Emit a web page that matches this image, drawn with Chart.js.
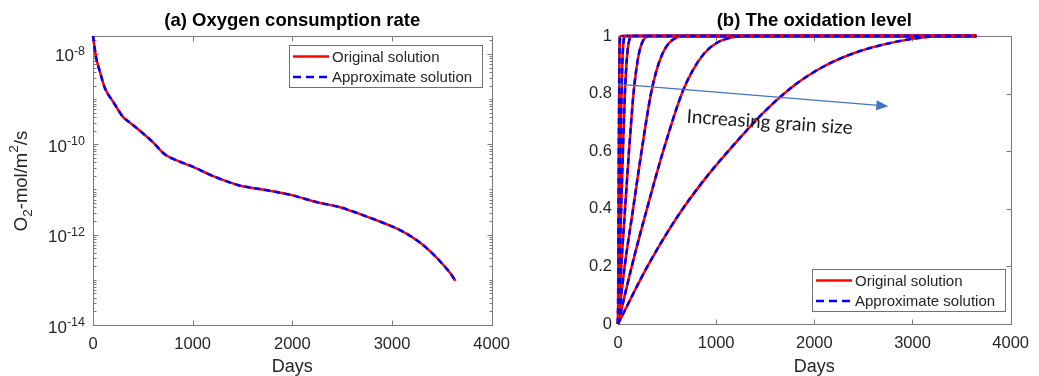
<!DOCTYPE html>
<html>
<head>
<meta charset="utf-8">
<script src="https://cdn.jsdelivr.net/npm/chart.js@4.4.0/dist/chart.umd.min.js"></script>
<style>
  html, body { margin: 0; padding: 0; background: #fff; }
  #wrap { position: relative; width: 1039px; height: 376px; overflow: hidden; }
  canvas { position: absolute; top: 0; }
  #chartA { left: 0; }
  #chartB { left: 520px; }
</style>
</head>
<body>
<div id="wrap">
  <canvas id="chartA" width="520" height="376"></canvas>
  <canvas id="chartB" width="519" height="376"></canvas>
</div>
<script>
// ---- data ----
var dayTicks = [0, 1000, 2000, 3000, 4000];
var legendLabels = ['Original solution', 'Approximate solution'];

// (a) oxygen consumption rate, O2-mol/m2/s
var rateDays = [0, 30, 70, 120, 200, 303, 340, 470, 600, 720, 800, 1000, 1200, 1470, 1700,
  2003, 2250, 2470, 2700, 2903, 3000, 3100, 3200, 3300, 3400, 3500, 3580, 3637];
var rateValues = [2.5e-8, 8.7e-9, 4.0e-9, 1.74e-9, 8.9e-10, 4.0e-10, 3.4e-10, 2.0e-10, 1.12e-10,
  6.0e-11, 4.8e-11, 3.2e-11, 2.0e-11, 1.23e-11, 1.0e-11, 7.4e-12, 5.2e-12, 4.1e-12, 2.75e-12,
  1.86e-12, 1.52e-12, 1.2e-12, 8.9e-13, 6.2e-13, 3.94e-13, 2.33e-13, 1.45e-13, 9.5e-14];
var rateExponents = [-14, -12, -10, -8];
var rateMin = 1e-14;
var rateMax = 2.5e-8;

// (b) oxidation level, one curve per grain size (small -> large)
var levelSteps = [0, 0.2, 0.4, 0.6, 0.8, 0.88, 0.94, 0.975, 0.993, 1, 1];
var grainDays = [
  [0, 3, 5, 8, 12, 14, 16, 18, 21, 24, 3650],
  [0, 8, 16, 25, 36, 42, 48, 55, 62, 72, 3650],
  [0, 15, 32, 50, 70, 82, 95, 108, 122, 140, 3650],
  [0, 33, 72, 112, 158, 185, 214, 243, 275, 316, 3650],
  [0, 68, 154, 240, 336, 392, 455, 517, 585, 670, 3650],
  [0, 140, 295, 460, 650, 760, 880, 1000, 1130, 1300, 3650]
];
var largestDays = [0, 300, 600, 900, 1200, 1500, 1800, 2100, 2400, 2700, 3000, 3300, 3650];
var largestLevel = [0, 0.2, 0.37, 0.51, 0.63, 0.74, 0.83, 0.895, 0.94, 0.97, 0.99, 1, 1];
var levelTicks = [0, 0.2, 0.4, 0.6, 0.8, 1];

// arrow + note, in data units (days, level)
var arrowFrom = [0, 0.833];
var arrowTo = [2754, 0.756];
var noteAt = [1545, 0.700];

// ---- styles ----
var fontFamily = "'Liberation Sans', Arial, sans-serif";
var textColor = '#262626';
var boxColor = '#7a7a7a';
var red = '#ff0000';
var blue = '#0000ff';

function pairs(xs, ys) {
  return xs.map(function (x, i) { return { x: x, y: ys[i] }; });
}

// red solid + blue dashed copy of one curve; later curves sit on top
function solutionSets(points, layer) {
  var base = {
    data: points, pointRadius: 0, borderWidth: 2.5, fill: false, clip: false,
    cubicInterpolationMode: 'monotone'
  };
  return [
    Object.assign({}, base, { label: legendLabels[0], borderColor: red, order: layer * 2 + 1 }),
    Object.assign({}, base, { label: legendLabels[1], borderColor: blue, borderDash: [6, 4], order: layer * 2 })
  ];
}

function drawText(ctx, txt, x, y, size, bold, align, color) {
  ctx.font = (bold ? 'bold ' : '') + size + 'px ' + fontFamily;
  ctx.fillStyle = color || textColor;
  ctx.textAlign = align || 'center';
  ctx.textBaseline = 'middle';
  ctx.fillText(txt, x, y);
}

function drawLegend(chart, lg) {
  var ctx = chart.ctx, area = chart.chartArea;
  var w = 193, h = 42;
  var left = Math.round(area.right - lg.right - w);
  var top = Math.round(lg.top != null ? area.top + lg.top : area.bottom - lg.bottom - h);
  ctx.fillStyle = '#fff';
  ctx.fillRect(left, top, w, h);
  ctx.strokeStyle = '#707070';
  ctx.lineWidth = 1;
  ctx.strokeRect(left + 0.5, top + 0.5, w, h);
  [red, blue].forEach(function (col, i) {
    var y = top + 11.5 + i * 20.5;
    ctx.beginPath();
    ctx.setLineDash(i ? [8, 5] : []);
    ctx.strokeStyle = col;
    ctx.lineWidth = 2.5;
    ctx.moveTo(left + 4, y);
    ctx.lineTo(left + 40, y);
    ctx.stroke();
    ctx.setLineDash([]);
    drawText(ctx, legendLabels[i], left + 43, y + 1, 15, false, 'left');
  });
}

function drawRotatedTitle(ctx, x, y, parts) {
  ctx.save();
  ctx.translate(x, y);
  ctx.rotate(-Math.PI / 2);
  ctx.fillStyle = textColor;
  ctx.textAlign = 'left';
  ctx.textBaseline = 'alphabetic';
  var total = 0;
  parts.forEach(function (p) {
    ctx.font = p[2] + 'px ' + fontFamily;
    total += ctx.measureText(p[0]).width;
  });
  var pos = -total / 2;
  parts.forEach(function (p) {
    ctx.font = p[2] + 'px ' + fontFamily;
    ctx.fillText(p[0], pos, p[1]);
    pos += ctx.measureText(p[0]).width;
  });
  ctx.restore();
}

var sketchAxes = {
  id: 'sketchAxes',
  beforeDatasetsDraw: function (chart, args, opts) {
    var ctx = chart.ctx, area = chart.chartArea;
    var xs = chart.scales.x, ys = chart.scales.y;
    var l = Math.round(area.left) + 0.5, r = Math.round(area.right) + 0.5;
    var t = Math.round(area.top) + 0.5, b = Math.round(area.bottom) + 0.5;
    ctx.save();
    ctx.strokeStyle = boxColor;
    ctx.lineWidth = 1;
    ctx.strokeRect(l, t, r - l, b - t);
    ctx.beginPath();
    dayTicks.forEach(function (v) {
      var px = Math.round(xs.getPixelForValue(v)) + 0.5;
      ctx.moveTo(px, b); ctx.lineTo(px, b - 5);
      ctx.moveTo(px, t); ctx.lineTo(px, t + 5);
    });
    var yTick = function (v, len) {
      var py = Math.round(ys.getPixelForValue(v)) + 0.5;
      ctx.moveTo(l, py); ctx.lineTo(l + len, py);
      ctx.moveTo(r, py); ctx.lineTo(r - len, py);
    };
    if (opts.log) {
      for (var k = -14; k <= -8; k++) {
        for (var m = 1; m <= 9; m++) {
          var v = m * Math.pow(10, k);
          if (v < rateMin || v > rateMax) continue;
          yTick(v, (m === 1 && rateExponents.indexOf(k) >= 0) ? 5 : 3);
        }
      }
    } else {
      levelTicks.forEach(function (v) { yTick(v, 5); });
    }
    ctx.stroke();
    ctx.restore();
  },
  afterDatasetsDraw: function (chart, args, opts) {
    var ctx = chart.ctx, area = chart.chartArea;
    var xs = chart.scales.x, ys = chart.scales.y;
    var cx = (area.left + area.right) / 2;
    ctx.save();

    if (opts.arrow) {
      var x1 = xs.getPixelForValue(arrowFrom[0]), y1 = ys.getPixelForValue(arrowFrom[1]);
      var x2 = xs.getPixelForValue(arrowTo[0]), y2 = ys.getPixelForValue(arrowTo[1]);
      var ang = Math.atan2(y2 - y1, x2 - x1);
      ctx.strokeStyle = '#4472c4';
      ctx.fillStyle = '#4472c4';
      ctx.lineWidth = 1.2;
      ctx.beginPath();
      ctx.moveTo(x1, y1);
      ctx.lineTo(x2 - 10 * Math.cos(ang), y2 - 10 * Math.sin(ang));
      ctx.stroke();
      ctx.save();
      ctx.translate(x2, y2);
      ctx.rotate(ang);
      ctx.beginPath();
      ctx.moveTo(0, 0);
      ctx.lineTo(-12, -5);
      ctx.lineTo(-12, 5);
      ctx.closePath();
      ctx.fill();
      ctx.restore();

      ctx.save();
      ctx.translate(xs.getPixelForValue(noteAt[0]), ys.getPixelForValue(noteAt[1]));
      ctx.rotate(4 * Math.PI / 180);
      ctx.font = '19px Lato, "Open Sans", sans-serif';
      ctx.fillStyle = '#1a1a1a';
      ctx.textAlign = 'center';
      ctx.textBaseline = 'middle';
      ctx.fillText('Increasing grain size', 0, 0);
      ctx.restore();
    }

    // log tick labels 10^n
    if (opts.log) {
      rateExponents.forEach(function (e) {
        var py = ys.getPixelForValue(Math.pow(10, e));
        var right = area.left - 8;
        ctx.font = '12.5px ' + fontFamily;
        var supW = ctx.measureText('-' + Math.abs(e)).width;
        ctx.fillStyle = textColor;
        ctx.textAlign = 'left';
        ctx.textBaseline = 'alphabetic';
        ctx.fillText('-' + Math.abs(e), right - supW, py + 1);
        ctx.font = '17px ' + fontFamily;
        ctx.textAlign = 'right';
        ctx.fillText('10', right - supW, py + 7.5);
      });
    }

    drawText(ctx, opts.title, cx, 21, 18.5, true, 'center', '#000');
    drawText(ctx, 'Days', cx, 367, 18, false, 'center');
    if (opts.yParts) drawRotatedTitle(ctx, 26.5, 181, opts.yParts);
    drawLegend(chart, opts.legend);
    ctx.restore();
  }
};

function xScale(height) {
  return {
    type: 'linear', min: 0, max: 4000,
    grid: { display: false, drawTicks: false }, border: { display: false },
    ticks: {
      stepSize: 1000, padding: 10, color: textColor, font: { family: fontFamily, size: 16.5 },
      callback: function (v) { return String(v); }
    },
    afterFit: function (scale) { scale.height = height; }
  };
}

// ---- (a) Oxygen consumption rate ----
new Chart(document.getElementById('chartA'), {
  type: 'line',
  data: { datasets: solutionSets(pairs(rateDays, rateValues), 0) },
  options: {
    responsive: false, animation: false, devicePixelRatio: 1, events: [],
    layout: { padding: { top: 36, right: 27, bottom: 0, left: 0 } },
    scales: {
      x: xScale(51),
      y: {
        type: 'logarithmic', min: rateMin, max: rateMax,
        grid: { display: false, drawTicks: false }, border: { display: false },
        ticks: { display: false },
        afterBuildTicks: function (scale) {
          scale.ticks = rateExponents.map(function (e) { return { value: Math.pow(10, e) }; });
        },
        afterFit: function (scale) { scale.width = 93; }
      }
    },
    plugins: {
      legend: { display: false }, tooltip: { enabled: false },
      sketchAxes: {
        title: '(a) Oxygen consumption rate', log: true,
        yParts: [['O', 0, 18.5], ['2', 5, 13.5], ['-mol/m', 0, 18.5], ['2', -8.5, 13.5], ['/s', 0, 18.5]],
        legend: { right: 10, top: 9 }
      }
    }
  },
  plugins: [sketchAxes]
});

// ---- (b) The oxidation level ----
var levelSets = [];
var curveCount = grainDays.length + 1;
grainDays.forEach(function (days, i) {
  levelSets = levelSets.concat(solutionSets(pairs(days, levelSteps), curveCount - 1 - i));
});
levelSets = levelSets.concat(solutionSets(pairs(largestDays, largestLevel), 0));

new Chart(document.getElementById('chartB'), {
  type: 'line',
  data: { datasets: levelSets },
  options: {
    responsive: false, animation: false, devicePixelRatio: 1, events: [],
    layout: { padding: { top: 36, right: 21, bottom: 0, left: 0 } },
    scales: {
      x: xScale(52),
      y: {
        type: 'linear', min: 0, max: 1,
        grid: { display: false, drawTicks: false }, border: { display: false },
        ticks: {
          stepSize: 0.2, padding: 6, color: textColor, font: { family: fontFamily, size: 16.5 },
          callback: function (v) { return String(Math.round(v * 10) / 10); }
        },
        afterFit: function (scale) { scale.width = 98; }
      }
    },
    plugins: {
      legend: { display: false }, tooltip: { enabled: false },
      sketchAxes: {
        title: '(b) The oxidation level', log: false, arrow: true,
        legend: { right: 6, bottom: 13 }
      }
    }
  },
  plugins: [sketchAxes]
});
</script>
</body>
</html>
